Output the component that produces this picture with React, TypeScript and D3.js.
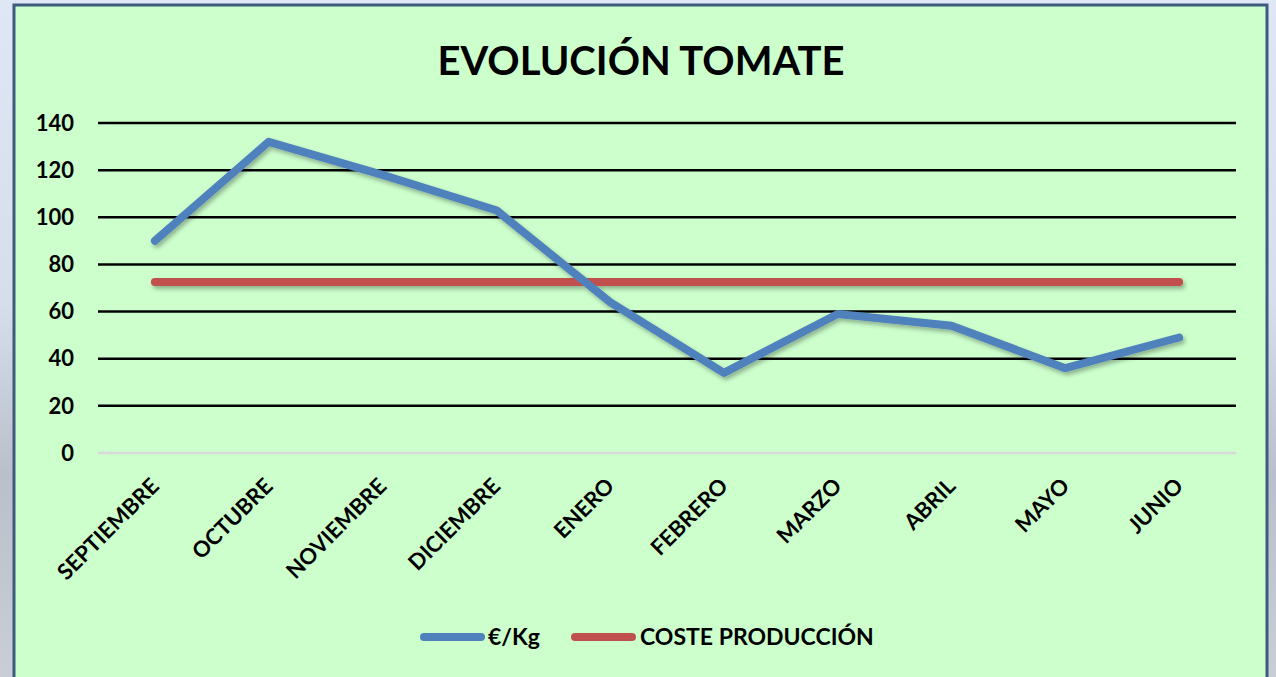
import { useMemo } from "react";
import { scaleLinear, scaleBand, line } from "d3";

// data
const months = [
    "SEPTIEMBRE",
    "OCTUBRE",
    "NOVIEMBRE",
    "DICIEMBRE",
    "ENERO",
    "FEBRERO",
    "MARZO",
    "ABRIL",
    "MAYO",
    "JUNIO",
];
const precioKg = [90, 132, 118, 103, 64, 34, 59, 54, 36, 49];
const costeProduccion = [72.5, 72.5, 72.5, 72.5, 72.5, 72.5, 72.5, 72.5, 72.5, 72.5];
const yTicks = [0, 20, 40, 60, 80, 100, 120, 140];
const seriesNames = ["€/Kg", "COSTE PRODUCCIÓN"];

const W = 1276;
const H = 677;
const FONT = "Lato, 'Open Sans', sans-serif";
const BLUE = "#4f81bd";
const RED = "#c0504d";

export default function App() {
    const x = useMemo(() => scaleBand<string>().domain(months).range([98, 1236]), []);
    const y = useMemo(() => scaleLinear().domain([0, 140]).range([453, 123]), []);

    const cx = (m: string) => (x(m) ?? 0) + x.bandwidth() / 2;

    const lineGen = line<number>()
        .x((_, i) => cx(months[i]))
        .y((d) => y(d));

    const [x0, x1] = x.range();

    return (
        <svg
            width={W}
            height={H}
            style={{ position: "absolute", left: 0, top: 0, display: "block" }}
        >
            <defs>
                <linearGradient id="bg" x1="0" y1="0" x2="0" y2="1">
                    <stop offset="0%" stopColor="#dfe7f6" />
                    <stop offset="45%" stopColor="#d6deec" />
                    <stop offset="70%" stopColor="#b9c0cb" />
                    <stop offset="100%" stopColor="#c9ced6" />
                </linearGradient>
                <filter id="shadow" x="-5%" y="-20%" width="110%" height="140%">
                    <feDropShadow dx="2" dy="3" stdDeviation="2" floodColor="#000" floodOpacity="0.3" />
                </filter>
            </defs>

            {/* outside background + chart panel */}
            <rect x={0} y={0} width={W} height={H} fill="url(#bg)" />
            <rect x={14} y={5} width={1253} height={700} fill="#ccffcc" stroke="#3f5a7f" strokeWidth={3} />

            <text
                x={641}
                y={75}
                textAnchor="middle"
                fontFamily={FONT}
                fontWeight="bold"
                fontSize={40}
                fill="#000"
            >
                EVOLUCIÓN TOMATE
            </text>

            {/* gridlines + y labels */}
            {yTicks.map((t) => (
                <g key={t}>
                    <line
                        x1={x0}
                        x2={x1}
                        y1={y(t)}
                        y2={y(t)}
                        stroke={t === 0 ? "#d9d9d9" : "#000"}
                        strokeWidth={2.5}
                    />
                    <text
                        x={74}
                        y={y(t)}
                        dy="0.35em"
                        textAnchor="end"
                        fontFamily={FONT}
                        fontWeight="bold"
                        fontSize={22}
                        fill="#000"
                    >
                        {t}
                    </text>
                </g>
            ))}

            {/* x labels */}
            {months.map((m) => (
                <text
                    key={m}
                    transform={`translate(${cx(m)},${482}) rotate(-45)`}
                    dy="0.35em"
                    textAnchor="end"
                    fontFamily={FONT}
                    fontWeight="bold"
                    fontSize={22}
                    fill="#000"
                >
                    {m}
                </text>
            ))}

            {/* series */}
            <g filter="url(#shadow)">
                <path
                    d={lineGen(costeProduccion) ?? ""}
                    fill="none"
                    stroke={RED}
                    strokeWidth={8}
                    strokeLinecap="round"
                    strokeLinejoin="round"
                />
                <path
                    d={lineGen(precioKg) ?? ""}
                    fill="none"
                    stroke={BLUE}
                    strokeWidth={8}
                    strokeLinecap="round"
                    strokeLinejoin="round"
                />
            </g>

            {/* legend */}
            <g fontFamily={FONT} fontWeight="bold" fontSize={23} fill="#000">
                <line x1={424} x2={481} y1={637} y2={637} stroke={BLUE} strokeWidth={8} strokeLinecap="round" />
                <text x={488} y={645}>{seriesNames[0]}</text>
                <line x1={575} x2={632} y1={637} y2={637} stroke={RED} strokeWidth={8} strokeLinecap="round" />
                <text x={640} y={645}>{seriesNames[1]}</text>
            </g>
        </svg>
    );
}
